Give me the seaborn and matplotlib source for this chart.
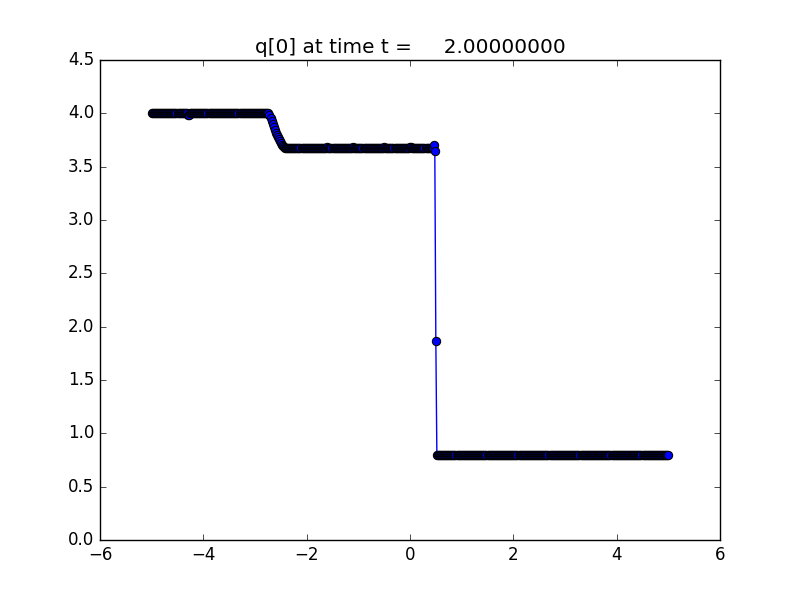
import numpy as np
import pandas as pd
import matplotlib
matplotlib.use("Agg")
import matplotlib.pyplot as plt
import seaborn as sns

plt.style.use("classic")

# grid of cell positions
x_start, x_end, n_cells = -5.0, 5.0, 501

# states
left_state = 4.0
middle_state = 3.675
right_state = 0.8

# rarefaction fan (x from -2.74 to -2.42)
fan_x = [-2.74, -2.72, -2.70, -2.68, -2.66, -2.64, -2.62, -2.60, -2.58,
         -2.56, -2.54, -2.52, -2.50, -2.48, -2.46, -2.44, -2.42]
fan_y = [4.00, 3.985, 3.96, 3.93, 3.90, 3.87, 3.845, 3.82, 3.80,
         3.78, 3.76, 3.74, 3.72, 3.70, 3.69, 3.68, 3.675]

# shock points
shock_x = [0.46, 0.48, 0.50]
shock_y = [3.70, 3.65, 1.87]

# small wiggles
bump_x = [-4.30, -4.28, -1.60, -1.10, -0.50, 0.00, 0.02]
bump_y = [3.985, 3.985, 3.685, 3.685, 3.685, 3.685, 3.685]

x = np.linspace(x_start, x_end, n_cells)
y = np.where(x < fan_x[0], left_state,
             np.where(x < shock_x[0], middle_state, right_state))
for xs, ys in zip(fan_x + shock_x + bump_x, fan_y + shock_y + bump_y):
    y[np.argmin(np.abs(x - xs))] = ys

df = pd.DataFrame({"x": x, "q": y})

fig = plt.figure(figsize=(8, 6), dpi=100)
ax = fig.add_subplot(111)
sns.lineplot(data=df, x="x", y="q", ax=ax, color="b", marker="o",
             markersize=6, markeredgecolor="k", markerfacecolor="b",
             linewidth=1, sort=False, estimator=None)
ax.set_xlim(-6, 6)
ax.set_ylim(0, 4.5)
ax.set_xlabel("")
ax.set_ylabel("")
ax.set_title("q[0] at time t =     2.00000000")
fig.savefig("out.png", dpi=100)
